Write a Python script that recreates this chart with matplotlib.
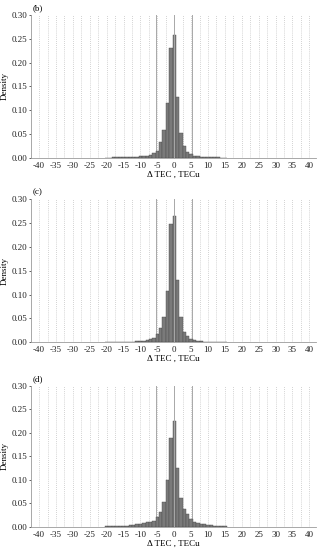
import numpy as np
import matplotlib
matplotlib.use("Agg")
import matplotlib.pyplot as plt

plt.rcParams['font.family'] = ['Liberation Serif', 'DejaVu Serif']

# histogram bins (centres, width 1 TECu)
bin_centers = np.arange(-20, 16)

density_b = [0.0003, 0.0003, 0.0004, 0.0005, 0.0006, 0.0008, 0.0010, 0.0012, 0.0015, 0.0020,
             0.0025, 0.0035, 0.0045, 0.0060, 0.0090, 0.0150, 0.0320, 0.0580, 0.1150, 0.2300,
             0.2580, 0.1280, 0.0530, 0.0250, 0.0130, 0.0070, 0.0045, 0.0030, 0.0020, 0.0015,
             0.0010, 0.0008, 0.0006, 0.0004, 0.0003, 0.0002]

density_c = [0.0002, 0.0003, 0.0003, 0.0004, 0.0005, 0.0007, 0.0009, 0.0011, 0.0014, 0.0018,
             0.0024, 0.0032, 0.0045, 0.0065, 0.0100, 0.0170, 0.0310, 0.0540, 0.1070, 0.2480,
             0.2640, 0.1300, 0.0540, 0.0220, 0.0130, 0.0075, 0.0045, 0.0030, 0.0020, 0.0014,
             0.0010, 0.0007, 0.0005, 0.0003, 0.0002, 0.0001]

density_d = [0.0004, 0.0005, 0.0006, 0.0008, 0.0010, 0.0015, 0.0020, 0.0030, 0.0040, 0.0050,
             0.0060, 0.0080, 0.0090, 0.0110, 0.0130, 0.0210, 0.0310, 0.0520, 0.1000, 0.1880,
             0.2250, 0.1250, 0.0620, 0.0370, 0.0260, 0.0160, 0.0100, 0.0080, 0.0060, 0.0050,
             0.0040, 0.0030, 0.0020, 0.0015, 0.0010, 0.0008]

panel_labels = ['(b)', '(c)', '(d)']
x_ticks = np.arange(-40, 41, 5)
y_ticks = [0.00, 0.05, 0.10, 0.15, 0.20, 0.25, 0.30]
limit_lines = [-5.4, 0, 5.4]

fig = plt.figure(figsize=(3.25, 5.5), dpi=100)
boxes = [[0.0945, 0.7133, 0.878, 0.259],
         [0.0945, 0.3776, 0.878, 0.2605],
         [0.0945, 0.0424, 0.878, 0.2564]]

for box, dens, lab in zip(boxes, [density_b, density_c, density_d], panel_labels):
    ax = fig.add_axes(box)
    # dotted grid every 2.5
    for gx in np.arange(-40, 40.1, 2.5):
        ax.axvline(gx, color='#c4c4c4', lw=0.6, ls=(0, (1, 1.5)), zorder=0)
    for lx in limit_lines:
        ax.axvline(lx, color='#a8a8a8', lw=0.7, zorder=3 if lx == 0 else 1)
    ax.bar(bin_centers, dens, width=1.0, color='#7a7a7a', edgecolor='#4a4a4a',
           linewidth=0.3, zorder=2)
    ax.set_xlim(-42.5, 42)
    ax.set_ylim(0, 0.30)
    ax.set_xticks(x_ticks)
    ax.set_xticklabels([str(t) for t in x_ticks])
    ax.set_yticks(y_ticks)
    ax.set_yticklabels(['%.2f' % t for t in y_ticks])
    ax.tick_params(labelsize=6.5, colors='#222222', length=1.5, width=0.5, pad=1.2)
    ax.tick_params(axis='x', length=0, pad=3)
    for s in ['top', 'right']:
        ax.spines[s].set_visible(False)
    for s in ['left', 'bottom']:
        ax.spines[s].set_color('#9a9a9a')
        ax.spines[s].set_linewidth(0.6)
    ax.set_ylabel('Density', fontsize=6.5, labelpad=2)
    ax.set_xlabel('Δ TEC , TECu', fontsize=6.5, labelpad=0.5)
    ax.text(0.005, 1.02, lab, transform=ax.transAxes, fontsize=6.5, va='bottom', ha='left')

fig.savefig('out.png', dpi=100)
